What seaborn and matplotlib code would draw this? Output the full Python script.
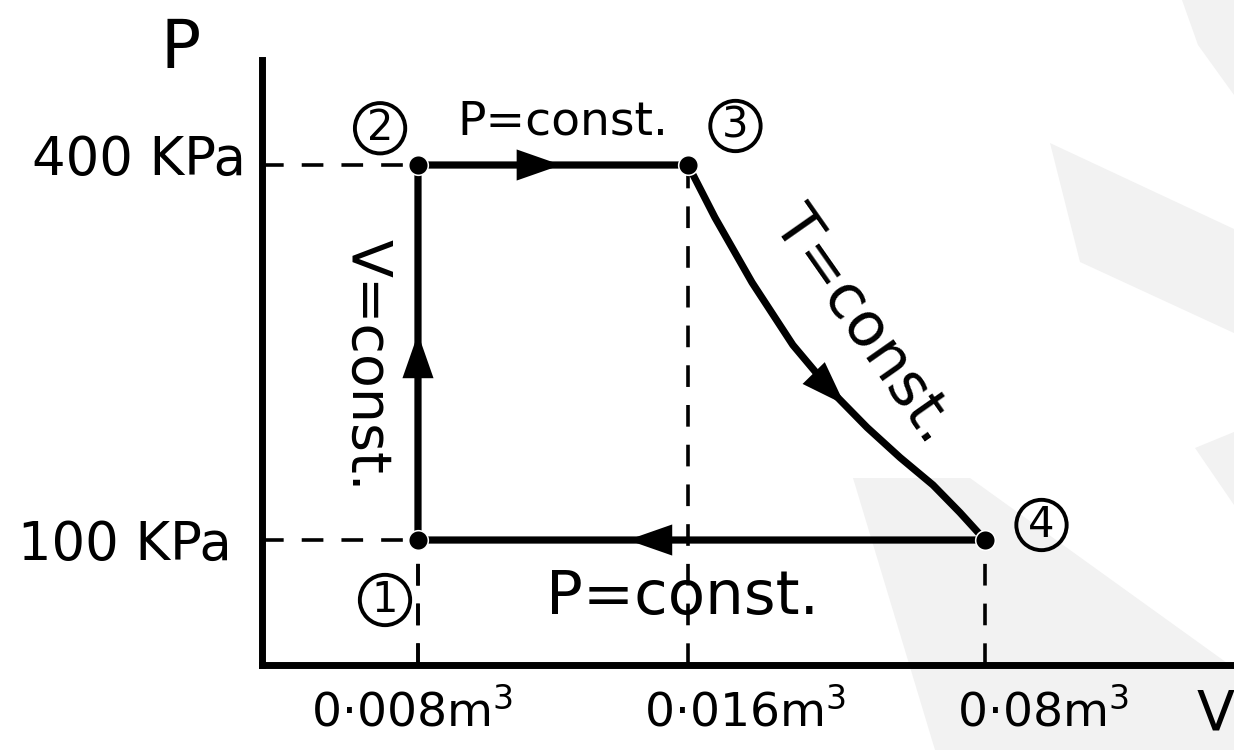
import numpy as np
import matplotlib
matplotlib.use('Agg')
import matplotlib.pyplot as plt
from matplotlib.patches import Polygon
import seaborn as sns

# state points of the cycle (V in m3, P in kPa)
state_names = ['1', '2', '3', '4']
V_state = [0.008, 0.008, 0.016, 0.08]
P_state = [100, 400, 400, 100]

# isothermal 3 -> 4
V_iso = [0.016, 0.0218, 0.0298, 0.0386, 0.0472, 0.0546, 0.0617, 0.0688, 0.0746, 0.08]
P_iso = [400, 358, 306, 256, 218, 190, 166, 144, 122, 100]

V_ticks = [0.008, 0.016, 0.08]
V_tick_labels = ['0·008m$^3$', '0·016m$^3$', '0·08m$^3$']
P_ticks = [400, 100]
P_tick_labels = ['400 KPa', '100 KPa']

# sketch is not to scale -> piecewise volume axis
V_anchor = [0, 0.008, 0.016, 0.08, 0.134]
pos_anchor = [0, 0.1605, 0.4383, 0.7438, 1.0]


def fwd(v):
    return np.interp(v, V_anchor, pos_anchor)


def inv(p):
    return np.interp(p, pos_anchor, V_anchor)


sns.set_style('white')
plt.rcParams['font.family'] = ['DejaVu Sans']
plt.rcParams['text.color'] = 'black'
plt.rcParams['mathtext.fontset'] = 'dejavusans'

W, H = 1234, 750
fig = plt.figure(figsize=(W / 100, H / 100), dpi=100)

# faint grey watermark shapes of the scanned page (pixel outlines)
marks = [
    [(1182, 0), (1234, 0), (1234, 95), (1198, 45)],
    [(1050, 143), (1234, 229), (1234, 333), (1080, 262)],
    [(1195, 448), (1234, 432), (1234, 505)],
    [(853, 478), (970, 478), (1234, 668), (1234, 750), (935, 750)],
]
for pts in marks:
    fig.patches.append(Polygon([(x / W, 1 - y / H) for x, y in pts], closed=True,
                               transform=fig.transFigure, fc='#f2f2f2', ec='none',
                               zorder=-1))

ax = fig.add_axes([0.2123, 0.1133, 0.7877, 0.8067])
ax.patch.set_alpha(0)
ax.set_xscale('function', functions=(fwd, inv))
ax.set_xlim(0, 0.134)
ax.set_ylim(0, 484)

# cycle 1-2-3-(isotherm)-4-1
V_cycle = V_state[:3] + V_iso[1:] + [V_state[0]]
P_cycle = P_state[:3] + P_iso[1:] + [P_state[0]]
sns.lineplot(x=V_cycle, y=P_cycle, sort=False, estimator=None,
             color='black', lw=5.2, solid_joinstyle='round', ax=ax)
sns.scatterplot(x=V_state, y=P_state, s=200, color='black', zorder=5, ax=ax)

# dashed guide lines
dash = dict(color='black', lw=2.6, ls=(0, (6, 5)))
for v, p in zip(V_state, P_state):
    ax.plot([v, v], [0, p], **dash)
for p in P_ticks:
    ax.plot([0, V_state[0]], [p, p], **dash)


def mid_arrow(v0, p0, v1, p1, f):
    # arrow head at fraction f of a segment (in axis position space)
    a, b = fwd(v0), fwd(v1)
    tip = (float(inv(a + f * (b - a))), p0 + f * (p1 - p0))
    g = f - 0.02
    tail = (float(inv(a + g * (b - a))), p0 + g * (p1 - p0))
    ax.annotate('', xy=tip, xytext=tail,
                arrowprops=dict(arrowstyle='-|>,head_length=0.8,head_width=0.28',
                                mutation_scale=40, color='black', lw=0,
                                shrinkA=0, shrinkB=0), zorder=6)


mid_arrow(V_state[0], P_state[0], V_state[1], P_state[1], 0.55)
mid_arrow(V_state[1], P_state[1], V_state[2], P_state[2], 0.53)
mid_arrow(V_state[3], P_state[3], V_state[0], P_state[0], 0.63)
mid_arrow(V_iso[4], P_iso[4], V_iso[5], P_iso[5], 0.35)

# axes: only the two thick lines
for s in ['top', 'right']:
    ax.spines[s].set_visible(False)
for s in ['left', 'bottom']:
    ax.spines[s].set_linewidth(5)
    ax.spines[s].set_color('black')
ax.set_xticks([])
ax.set_yticks([])

# labels
fig.text(0.146, 0.935, 'P', fontsize=48, ha='center', va='center')
fig.text(0.970, 0.047, 'V', fontsize=40, ha='left', va='center')
fig.text(0.199, 0.787, P_tick_labels[0], fontsize=38, ha='right', va='center')
fig.text(0.188, 0.273, P_tick_labels[1], fontsize=38, ha='right', va='center')
for x, lab in zip([0.334, 0.604, 0.845], V_tick_labels):
    fig.text(x, 0.05, lab, fontsize=34, ha='center', va='center')

circ = dict(boxstyle='circle,pad=0.1', fc='none', ec='black', lw=2.8)
for (x, y), name in zip([(0.312, 0.20), (0.308, 0.829), (0.596, 0.832), (0.844, 0.30)],
                        state_names):
    fig.text(x, y, name, fontsize=30, ha='center', va='center', bbox=circ)

fig.text(0.456, 0.837, 'P=const.', fontsize=34, ha='center', va='center')
fig.text(0.553, 0.203, 'P=const.', fontsize=44, ha='center', va='center')
fig.text(0.297, 0.513, 'V=const.', fontsize=40, ha='center', va='center', rotation=-90)
fig.text(0.699, 0.567, 'T=const.', fontsize=44, ha='center', va='center', rotation=-55)

fig.savefig('out.png', dpi=100)
